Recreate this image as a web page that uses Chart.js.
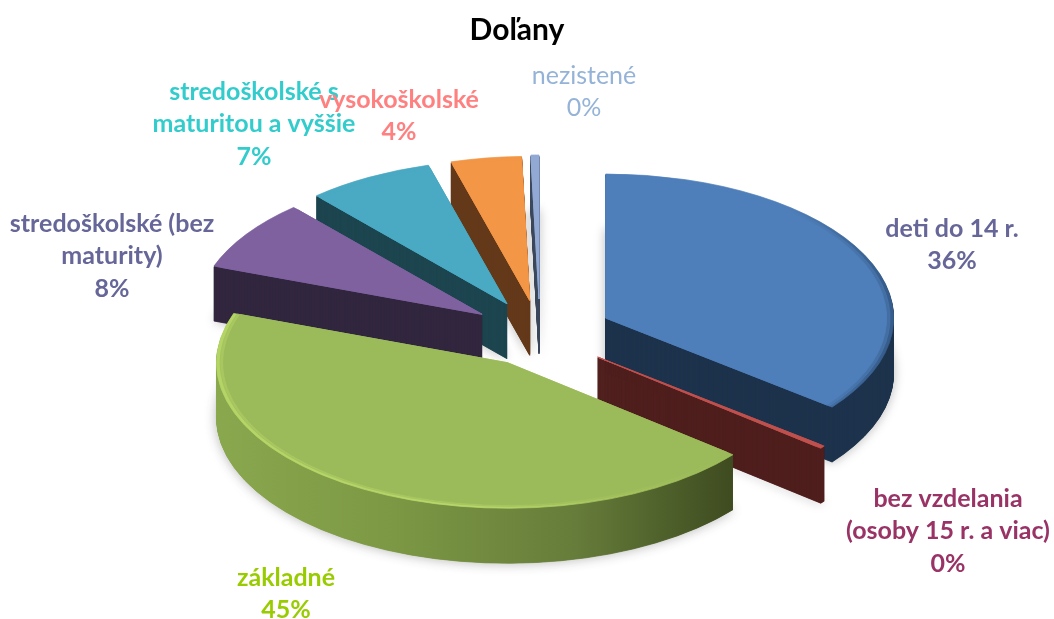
<!DOCTYPE html>
<html>
<head>
<meta charset="utf-8">
<style>
    body { margin: 0; background: #fff; }
    canvas { display: block; }
</style>
<script src="https://cdn.jsdelivr.net/npm/chart.js@4"></script>
</head>
<body>
<canvas id="education_chart" width="1054" height="619"></canvas>
<script>
let categories = ['deti do 14 r.', 'bez vzdelania (osoby 15 r. a viac)', 'základné', 'stredoškolské (bez maturity)', 'stredoškolské s maturitou a vyššie', 'vysokoškolské', 'nezistené'];
let shares = [35.6, 0.3, 44.6, 8.0, 7.1, 3.95, 0.45];

let labelLines = [
    ['deti do 14 r.'],
    ['bez vzdelania', '(osoby 15 r. a viac)'],
    ['základné'],
    ['stredoškolské (bez', 'maturity)'],
    ['stredoškolské s', 'maturitou a vyššie'],
    ['vysokoškolské'],
    ['nezistené']
];

let topColors = ['#4f7fba', '#c0504d', '#9bba59', '#7f61a0', '#4aa9c3', '#f39645', '#92a9d4'];
let wallColors = ['#1e334c', '#4f1f1e', '#7d9a45', '#32273f', '#1d4650', '#643a1b', '#3d4a5e'];
let labelColors = ['#666699', '#993366', '#99cc00', '#666699', '#33cccc', '#ff8080', '#95b3d7'];
let labelWeights = ['bold', 'bold', 'bold', 'bold', 'bold', 'bold', 'normal'];

// how far each slice is pulled out of the pie, its radius, and the order they are painted in (back to front)
let explode = [73, 74, 66, 70, 69, 68, 70];
let sliceRadius = [288, 288, 291, 285, 288, 288, 288];
let paintOrder = [6, 5, 4, 3, 0, 1, 2];

// centre of the first label line for each slice
let labelX = [952, 948, 286, 112, 254, 399, 584];
let labelY = [229, 499, 578, 224, 92, 100, 76];
const labelLineHeight = 32.4;

const pieCenter = { x: 540, y: 334 };
const tilt = 0.5;
const wallDepth = 55;
const wallStep = 0.5;
const rimWidth = 7;


/**
 * draws one arc with other colours or radius, without touching the real element
 */
function drawArcCopy(ctx, arc, color, radius, outline) {
    let copy = Object.create(arc);
    copy.options = Object.assign({}, arc.options, {
        backgroundColor: color,
        borderColor: color,
        borderWidth: outline,
        borderAlign: 'center'
    });
    copy.outerRadius = radius;
    copy.draw(ctx);
}


/**
 * green wall goes from light on the left to nearly olive on the right
 */
function wallFill(ctx, index, arc) {
    if (index != 2) {
        return wallColors[index];
    }
    let gradient = ctx.createLinearGradient(arc.x - 295, 0, arc.x + 225, 0);
    gradient.addColorStop(0, '#8aa84e');
    gradient.addColorStop(0.35, '#7c9844');
    gradient.addColorStop(0.7, '#667c3a');
    gradient.addColorStop(0.88, '#4d5f2a');
    gradient.addColorStop(1, '#3f4b20');
    return gradient;
}


/**
 * rim of the top face: light bevel on the green slice, dark one on the right of the blue slice
 */
function rimFill(ctx, index, arc) {
    let gradient;
    if (index == 2) {
        gradient = ctx.createLinearGradient(arc.x - 290, 0, arc.x + 225, 0);
        gradient.addColorStop(0, '#b4d466');
        gradient.addColorStop(0.5, '#b8d86c');
        gradient.addColorStop(0.8, '#a5c45e');
        gradient.addColorStop(1, '#9bba59');
        return gradient;
    }
    if (index == 0) {
        gradient = ctx.createLinearGradient(arc.x + 180, 0, arc.x + 280, 0);
        gradient.addColorStop(0, '#4f7fba');
        gradient.addColorStop(1, '#365d8c');
        return gradient;
    }
    return topColors[index];
}


/**
 * paints one slice: side wall made of stacked copies, then the rim and the top face
 */
function drawSlice(ctx, arc, index) {
    let midAngle = (arc.startAngle + arc.endAngle) / 2;
    let shiftX = Math.cos(midAngle) * explode[index];
    let shiftY = Math.sin(midAngle) * explode[index];
    let radius = sliceRadius[index];

    for (let depth = wallDepth; depth >= 1; depth -= wallStep) {
        ctx.save();
        if (depth == wallDepth) {
            ctx.shadowColor = 'rgba(0, 0, 0, 0.28)';
            ctx.shadowBlur = 12;
        }
        ctx.translate(pieCenter.x, pieCenter.y + depth);
        ctx.scale(1, tilt);
        ctx.translate(-arc.x + shiftX, -arc.y + shiftY);
        drawArcCopy(ctx, arc, wallFill(ctx, index, arc), radius, 1);
        ctx.restore();
    }

    ctx.save();
    ctx.translate(pieCenter.x, pieCenter.y);
    ctx.scale(1, tilt);
    ctx.translate(-arc.x + shiftX, -arc.y + shiftY);
    drawArcCopy(ctx, arc, rimFill(ctx, index, arc), radius, 1);
    ctx.globalAlpha = 0.5;
    drawArcCopy(ctx, arc, topColors[index], radius - rimWidth / 2, 1);
    ctx.globalAlpha = 1;
    drawArcCopy(ctx, arc, topColors[index], radius - rimWidth, 1);
    ctx.restore();
}


/**
 * tilted exploded pie, the elements come from the doughnut controller
 */
const tiltedPiePlugin = {
    id: 'tiltedPie',
    beforeDatasetsDraw(chart) {
        let arcs = chart.getDatasetMeta(0).data;
        paintOrder.forEach(index => drawSlice(chart.ctx, arcs[index], index));
        return false;
    }
};


/**
 * name and rounded percentage next to each slice
 */
const sliceLabelsPlugin = {
    id: 'sliceLabels',
    afterDraw(chart) {
        let ctx = chart.ctx;
        ctx.save();
        ctx.textAlign = 'center';
        ctx.textBaseline = 'middle';
        shares.forEach((share, i) => {
            let lines = labelLines[i].concat(Math.round(share) + '%');
            ctx.font = labelWeights[i] + ' 25px Lato';
            ctx.fillStyle = labelColors[i];
            lines.forEach((line, n) => {
                ctx.fillText(line, labelX[i], labelY[i] + n * labelLineHeight);
            });
        });
        ctx.restore();
    }
};


const educationChart = new Chart(document.getElementById('education_chart'), {
    type: 'pie',
    data: {
        labels: categories,
        datasets: [{
            data: shares,
            backgroundColor: topColors,
            borderWidth: 0
        }]
    },
    options: {
        responsive: false,
        animation: false,
        radius: 288,
        layout: {
            padding: { right: 20 }
        },
        plugins: {
            legend: { display: false },
            tooltip: { enabled: false },
            title: {
                display: true,
                text: 'Doľany',
                color: '#000',
                font: { family: 'Lato', size: 30, weight: 'bold' },
                padding: { top: 12, bottom: 10 }
            }
        }
    },
    plugins: [tiltedPiePlugin, sliceLabelsPlugin]
});
</script>
</body>
</html>
